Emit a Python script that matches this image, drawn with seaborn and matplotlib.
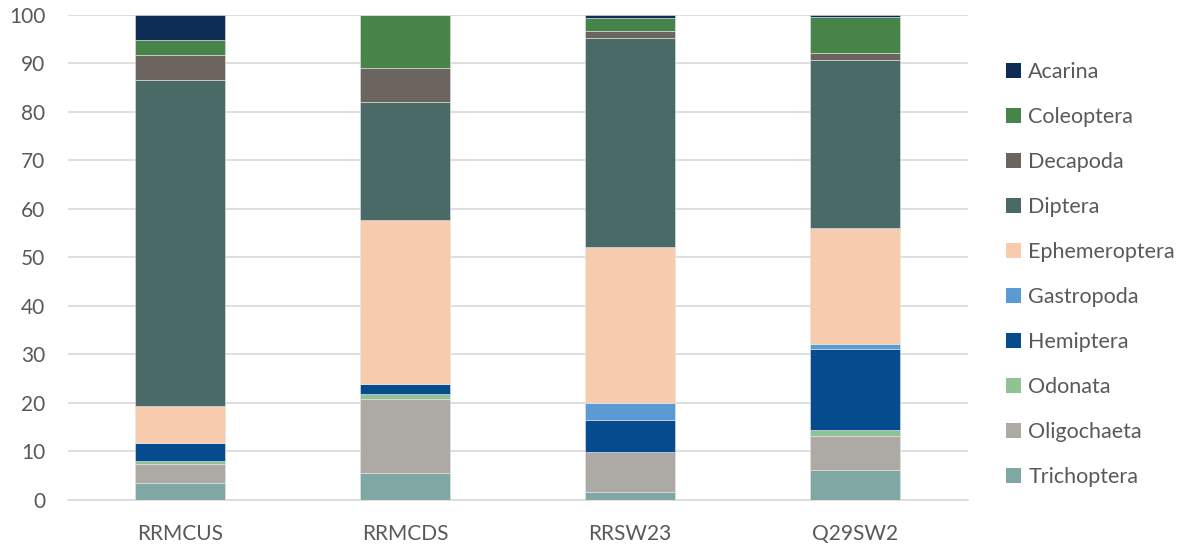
import matplotlib
matplotlib.use("Agg")
import matplotlib.pyplot as plt
from matplotlib.patches import Patch
import numpy as np
import pandas as pd
import seaborn as sns

sites = ["RRMCUS", "RRMCDS", "RRSW23", "Q29SW2"]

# Relative abundance (%) of each taxon per site, listed bottom to top of the stack
trichoptera = [3.6, 5.5, 1.6, 6.2]
oligochaeta = [3.8, 15.3, 8.3, 6.9]
odonata = [0.6, 1.0, 0.0, 1.4]
hemiptera = [3.8, 2.1, 6.5, 16.6]
gastropoda = [0.0, 0.0, 3.5, 1.0]
ephemeroptera = [7.6, 33.8, 32.2, 24.0]
diptera = [67.1, 24.3, 43.2, 34.7]
decapoda = [5.2, 7.0, 1.5, 1.4]
coleoptera = [3.1, 11.0, 2.6, 7.4]
acarina = [5.2, 0.0, 0.6, 0.4]

taxa = ["Trichoptera", "Oligochaeta", "Odonata", "Hemiptera", "Gastropoda",
        "Ephemeroptera", "Diptera", "Decapoda", "Coleoptera", "Acarina"]
values = [trichoptera, oligochaeta, odonata, hemiptera, gastropoda,
          ephemeroptera, diptera, decapoda, coleoptera, acarina]
colors = ["#7fa7a3", "#ada9a5", "#8fc393", "#074b8f", "#5b9bd5",
          "#f7cbad", "#4a6a67", "#6c645f", "#478449", "#0e2d55"]

df = pd.DataFrame(
    [(s, t, v) for t, vals in zip(taxa, values) for s, v in zip(sites, vals)],
    columns=["site", "taxon", "value"],
)

sns.set_theme(style="white")
plt.rcParams["font.family"] = ["Lato", "DejaVu Sans"]
text_color = "#595959"
grid_color = "#d9d9d9"

fig = plt.figure(figsize=(11.87, 5.45), dpi=100)
ax = fig.add_axes([0.0569, 0.0826, 0.7582, 0.8899])

bottom = np.zeros(len(sites))
for taxon, color in zip(taxa, colors):
    sub = df[df["taxon"] == taxon].set_index("site").loc[sites]
    sns.barplot(x=sites, y=sub["value"].values, bottom=bottom, color=color,
                saturation=1, width=0.4, errorbar=None, ax=ax, order=sites,
                edgecolor="#e6e6e6", linewidth=0.4, zorder=3)
    bottom += sub["value"].values

ax.set_ylim(0, 100)
ax.set_xlim(-0.5, len(sites) - 0.5)
ax.set_yticks(np.arange(0, 101, 10))
ax.yaxis.grid(True, color=grid_color, linewidth=1.2, zorder=0)
ax.set_axisbelow(True)
for side in ["top", "right", "left"]:
    ax.spines[side].set_visible(False)
ax.spines["bottom"].set_color(grid_color)
ax.spines["bottom"].set_linewidth(1.2)
ax.tick_params(axis="both", length=0, labelsize=15, colors=text_color)
ax.tick_params(axis="x", pad=17)
ax.tick_params(axis="y", pad=16)
ax.set_xlabel("")
ax.set_ylabel("")

handles = [Patch(facecolor=c, edgecolor="none") for c in colors[::-1]]
fig.legend(handles, taxa[::-1], loc="center left",
           bbox_to_anchor=(0.840, 0.496), frameon=False,
           fontsize=15.5, labelcolor=text_color,
           handlelength=0.7, handleheight=0.7, handletextpad=0.35,
           labelspacing=1.16, borderaxespad=0)

fig.savefig("out.png", dpi=100)
